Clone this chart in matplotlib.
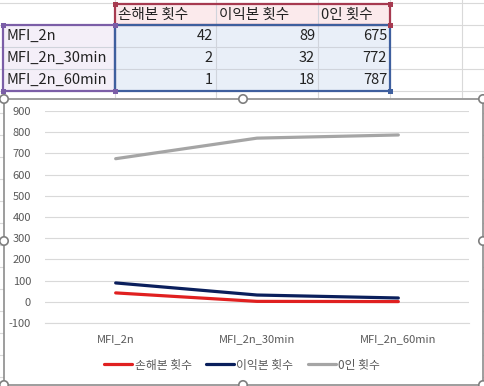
import matplotlib.pyplot as plt
from matplotlib.patches import Rectangle, Circle

plt.rcParams['font.family'] = ['Noto Sans CJK KR', 'DejaVu Sans']

# data
categories = ['MFI_2n', 'MFI_2n_30min', 'MFI_2n_60min']
series_names = ['손해본 횟수', '이익본 횟수', '0인 횟수']
loss = [42, 2, 1]
gain = [89, 32, 18]
zero = [675, 772, 787]
yticks = [-100, 0, 100, 200, 300, 400, 500, 600, 700, 800, 900]

W, H = 484, 386
fig = plt.figure(figsize=(W / 100, H / 100), dpi=100)

# background axes in pixel coordinates (spreadsheet)
bg = fig.add_axes([0, 0, 1, 1])
bg.set_xlim(0, W)
bg.set_ylim(H, 0)
bg.axis('off')

grid_c = '#D9D9D9'
row_y = [3, 25, 47, 69, 91]
col_x = [115, 216, 318, 390, 462]
for y in row_y + list(range(113, H, 22)):
    bg.plot([0, W], [y, y], color=grid_c, lw=0.8, zorder=0)
for x in col_x:
    bg.plot([x, x], [0, 97], color=grid_c, lw=0.8, zorder=0)

# selection fills / borders
bg.add_patch(Rectangle((115, 4), 275, 21, facecolor='#FBEAEC', edgecolor='none', zorder=1))
bg.add_patch(Rectangle((3, 25), 112, 66, facecolor='#F4EFF8', edgecolor='none', zorder=1))
bg.add_patch(Rectangle((115, 25), 275, 66, facecolor='#E9EFF8', edgecolor='none', zorder=1))
for x in [216, 318]:
    bg.plot([x, x], [4, 91], color='#D0D4DC', lw=0.8, zorder=1.5)
for y in [47, 69]:
    bg.plot([3, 390], [y, y], color='#D0D4DC', lw=0.8, zorder=1.5)
bg.add_patch(Rectangle((115, 4), 275, 21, facecolor='none', edgecolor='#A63A50', lw=1.6, zorder=2))
bg.add_patch(Rectangle((3, 25), 112, 66, facecolor='none', edgecolor='#7B5EA7', lw=1.6, zorder=2))
bg.add_patch(Rectangle((115, 25), 275, 66, facecolor='none', edgecolor='#3E5F9E', lw=1.6, zorder=2))
for (x, y, c) in [(115, 4, '#A63A50'), (390, 4, '#A63A50'), (3, 25, '#7B5EA7'),
                  (115, 25, '#7B5EA7'), (3, 91, '#7B5EA7'), (115, 91, '#7B5EA7'),
                  (390, 25, '#A63A50'), (390, 91, '#3E5F9E')]:
    bg.add_patch(Rectangle((x - 2.5, y - 2.5), 5, 5, facecolor=c, edgecolor='none', zorder=3))

# table text
tfs = 10.5
for i, name in enumerate(series_names):
    bg.text([118, 219, 321][i], 15, name, fontsize=tfs, va='center', ha='left',
            color='#222222', zorder=4)
values = list(zip(loss, gain, zero))
for r, cat in enumerate(categories):
    y = 36 + 22 * r
    bg.text(6, y, cat, fontsize=tfs, va='center', ha='left', color='#222222', zorder=4)
    for c, v in enumerate(values[r]):
        bg.text(col_x[c + 1] - 3 if c < 2 else 387, y, str(v), fontsize=tfs,
                va='center', ha='right', color='#222222', zorder=4)

# chart area
bg.add_patch(Rectangle((4, 99), 479, 286, facecolor='white', edgecolor='#8C8C8C', lw=1.2, zorder=5))
for (x, y) in [(4, 99), (243, 99), (483, 99), (4, 241), (483, 241), (4, 385), (243, 385), (483, 385)]:
    bg.add_patch(Circle((x, y), 4.2, facecolor='white', edgecolor='#7F7F7F', lw=1.2, zorder=6))

# plot axes
ax = fig.add_axes([45 / W, (H - 323) / H, 424 / W, 212 / H])
ax.set_zorder(10)
ax.patch.set_alpha(0)
colors = ['#E02020', '#0A1F5C', '#A5A5A5']
xs = range(len(categories))
for data, name, col in zip([loss, gain, zero], series_names, colors):
    ax.plot(xs, data, color=col, lw=2.3, label=name, solid_capstyle='round')
ax.set_xlim(-0.5, 2.5)
ax.set_ylim(-100, 900)
ax.set_yticks(yticks)
ax.set_yticklabels([str(t) for t in yticks], fontsize=8, color='#595959')
ax.set_xticks(list(xs))
ax.set_xticklabels(categories, fontsize=8, color='#595959')
ax.tick_params(axis='x', length=0, pad=8)
ax.tick_params(axis='y', length=0, pad=10)
ax.grid(axis='y', color='#D9D9D9', lw=0.8)
for s in ['top', 'right', 'left']:
    ax.spines[s].set_visible(False)
ax.spines['bottom'].set_color('#D9D9D9')
ax.set_axisbelow(True)

fig.legend(loc='center', bbox_to_anchor=(242 / W, (H - 365) / H), ncol=3, frameon=False,
           fontsize=8.5, handlelength=2.4, handletextpad=0.2, columnspacing=1.2,
           labelcolor='#595959')

fig.savefig('out.png', dpi=100)
